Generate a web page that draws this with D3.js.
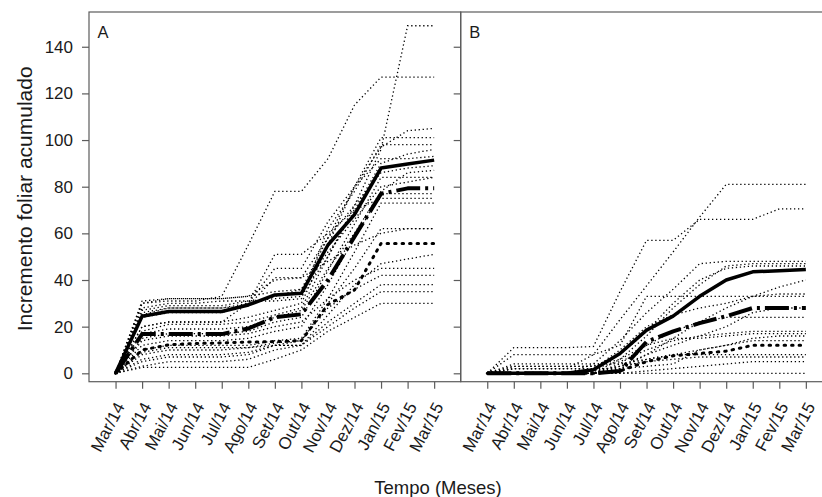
<!DOCTYPE html>
<html>
<head>
<meta charset="utf-8">
<script src="https://cdn.jsdelivr.net/npm/d3@7"></script>
<style>
  body{ margin: 0; background: #fff; }
  svg text{ font-family: 'Liberation Sans', Arial, sans-serif; fill: #1a1a1a; }
</style>
</head>
<body>
<div id="chart"></div>
<script>

// Months on the x axis (same for both panels).
const months = [ 'Mar/14', 'Abr/14', 'Mai/14', 'Jun/14', 'Jul/14', 'Ago/14', 'Set/14',
                 'Out/14', 'Nov/14', 'Dez/14', 'Jan/15', 'Fev/15', 'Mar/15' ];
const y_tick_values = [ 0, 20, 40, 60, 80, 100, 120, 140 ];

// Panel A: individual plants (thin dotted lines), one value per month.
const a_plants = [
  [ 0, 28, 30, 30, 31, 31, 32, 33, 50, 72, 96, 149, 149 ],
  [ 0, 30, 31, 31, 33, 55, 78, 78, 92, 115, 127, 127, 127 ],
  [ 0, 25, 28, 28, 28, 30, 33, 36, 58, 80, 97, 104, 105 ],
  [ 0, 20, 22, 22, 22, 24, 27, 30, 55, 80, 101, 101, 101 ],
  [ 0, 27, 29, 29, 29, 31, 31, 32, 62, 78, 98, 98, 98 ],
  [ 0, 18, 21, 21, 21, 22, 25, 28, 50, 70, 90, 94, 96 ],
  [ 0, 24, 26, 26, 26, 30, 45, 45, 65, 80, 92, 92, 93 ],
  [ 0, 31, 32, 32, 32, 33, 40, 41, 58, 72, 86, 88, 89 ],
  [ 0, 15, 17, 17, 17, 18, 22, 24, 44, 64, 84, 84, 84 ],
  [ 0, 12, 14, 14, 14, 15, 18, 20, 38, 58, 77, 77, 77 ],
  [ 0, 20, 22, 22, 22, 30, 51, 51, 60, 70, 75, 75, 75 ],
  [ 0, 10, 12, 12, 12, 12, 14, 15, 32, 52, 73, 73, 73 ],
  [ 0, 8, 10, 10, 10, 11, 13, 14, 30, 45, 62, 62, 62 ],
  [ 0, 5, 7, 7, 7, 8, 12, 12, 25, 38, 47, 49, 51 ],
  [ 0, 14, 16, 16, 16, 17, 20, 22, 32, 40, 45, 45, 45 ],
  [ 0, 6, 8, 8, 8, 9, 12, 14, 28, 36, 42, 42, 42 ],
  [ 0, 3, 5, 5, 5, 6, 10, 12, 22, 30, 38, 38, 38 ],
  [ 0, 9, 11, 11, 11, 11, 12, 12, 20, 28, 35, 35, 35 ],
  [ 0, 2.5, 2.5, 2.5, 2.5, 2.5, 6, 10, 18, 24, 30, 30, 30 ],
  [ 0, 30, 32, 32, 32, 33, 35, 36, 52, 66, 80, 82, 84 ],
  [ 0, 17, 19, 19, 19, 20, 24, 27, 45, 60, 78, 86, 87 ],
  [ 0, 26, 28, 28, 28, 29, 41, 41, 48, 55, 60, 62, 62 ]
];
// Panel A: group means (thick lines).
const a_mean_solid   = [ 0, 24.5, 26.5, 26.5, 26.5, 29.3, 33.6, 34.3, 55, 68, 88, 89.7, 91.4 ];
const a_mean_twodash = [ 0, 16.8, 16.8, 16.8, 16.8, 19.2, 24, 25.3, 40, 58.6, 77, 79.3, 79.3 ];
const a_mean_dotted  = [ 0, 10, 12.2, 12.8, 13, 13.4, 13.6, 14, 29.5, 35.7, 55.7, 55.7, 55.7 ];

// Panel B: individual plants.
const b_plants = [
  [ 0, 2, 2, 2, 8, 23, 37.5, 52, 67, 81, 81, 81, 81 ],
  [ 0, 11, 11, 11, 11.5, 35, 57, 57, 66, 66, 66, 70.5, 70.5 ],
  [ 0, 0, 0, 0, 4, 14, 26, 36, 47, 48, 48, 48, 48 ],
  [ 0, 0, 0, 0, 0, 6, 16, 28, 38, 46, 47, 47, 47 ],
  [ 0, 3, 3, 3, 3, 8, 18, 30, 40, 45, 46, 46, 46 ],
  [ 0, 0, 0, 0, 0, 2, 8, 15, 22, 28, 33, 37, 40 ],
  [ 0, 8, 8, 8, 8, 12, 33, 33, 33, 33, 33, 33, 33 ],
  [ 0, 0, 0, 0, 2, 10, 20, 25, 28, 30, 33, 34, 34 ],
  [ 0, 0, 0, 0, 0, 4, 12, 18, 22, 24, 24, 24, 24 ],
  [ 0, 2, 2, 2, 2, 5, 10, 14, 16, 17, 18, 18, 18 ],
  [ 0, 3, 3, 3, 3, 6, 12, 15, 15, 16, 17, 17, 17 ],
  [ 0, 0, 0, 0, 0, 2, 6, 8, 10, 12, 15, 16, 16 ],
  [ 0, 4, 4, 4, 4, 4, 6, 8, 8, 8, 8, 8, 8 ],
  [ 0, 0, 0, 0, 1, 3, 5, 6, 7, 7, 7, 7, 7 ],
  [ 0, 0, 0, 0, 0, 0, 1, 2, 3, 4, 5, 5, 5 ],
  [ 0, 0, 0, 0, 0, 0, 0, 0, 0, 0, 0, 0, 0 ],
  [ 0, 2, 2, 2, 2, 2, 3, 4, 10, 12, 14, 14, 14 ],
  [ 0, 0, 0, 0, 0, 3, 8, 12, 16, 20, 26, 28, 28 ]
];
const b_mean_solid   = [ 0, 0, 0, 0, 1.5, 8.5, 18.5, 24.5, 33, 40, 43.5, 44, 44.5 ];
const b_mean_twodash = [ 0, 0, 0, 0, 0, 1, 13.5, 18, 21.5, 24.5, 28, 28, 28 ];
const b_mean_dotted  = [ 0, 0, 0, 0, 0, 1, 5, 7.5, 8.5, 9.5, 12, 12, 12 ];


var settings = {
  figure_width: 822,
  figure_height: 497,
  plot_top: 12,
  plot_bottom: 381.7,
  x_domain: [ -1, 13 ],
  y_domain: [ -3.6, 154.9 ],
  box_color: '#5c5c5c',
  tick_size: 7,
  tick_font: '17px',
  label_angle: -62
};

var panels = [
  { label: 'A', left: 89, right: 460.7, plants: a_plants,
    means: [ a_mean_solid, a_mean_twodash, a_mean_dotted ], y_labels: true },
  { label: 'B', left: 460.7, right: 832.4, plants: b_plants,
    means: [ b_mean_solid, b_mean_twodash, b_mean_dotted ], y_labels: false }
];

// Line styles of the three means: solid, twodash, thick dotted.
var mean_styles = [
  { width: 3.5, dash: null, cap: 'butt' },
  { width: 4, dash: '24,5,3,5', cap: 'butt' },
  { width: 3, dash: '1.5,6', cap: 'round' }
];

var svg = d3.select( '#chart' )
  .append( 'svg' )
    .attr( 'width', settings.figure_width )
    .attr( 'height', settings.figure_height );

var y_scale = d3.scaleLinear()
  .domain( settings.y_domain )
  .range( [ settings.plot_bottom, settings.plot_top ] );


function draw_panel( panel ){
  var x_scale = d3.scaleLinear()
    .domain( settings.x_domain )
    .range( [ panel.left, panel.right ] );

  var line = d3.line()
    .x( function( d, i ){ return x_scale( i ) } )
    .y( function( d ){ return y_scale( d ) } );

  var g = svg.append( 'g' );

  // Thin dotted line for every plant.
  g.selectAll( 'path.plant' )
    .data( panel.plants )
    .enter()
    .append( 'path' )
      .attr( 'class', 'plant' )
      .attr( 'd', line )
      .attr( 'fill', 'none' )
      .attr( 'stroke', '#000' )
      .attr( 'stroke-width', 1.3 )
      .attr( 'stroke-dasharray', '1.3,2.7' );

  // Thick lines for the means, drawn on top.
  g.selectAll( 'path.mean' )
    .data( panel.means )
    .enter()
    .append( 'path' )
      .attr( 'class', 'mean' )
      .attr( 'd', line )
      .attr( 'fill', 'none' )
      .attr( 'stroke', '#000' )
      .attr( 'stroke-width', function( d, i ){ return mean_styles[ i ].width } )
      .attr( 'stroke-dasharray', function( d, i ){ return mean_styles[ i ].dash } )
      .attr( 'stroke-linecap', function( d, i ){ return mean_styles[ i ].cap } )
      .attr( 'stroke-linejoin', 'round' );

  // Box round the plot region.
  g.append( 'rect' )
    .attr( 'x', panel.left )
    .attr( 'y', settings.plot_top )
    .attr( 'width', panel.right - panel.left )
    .attr( 'height', settings.plot_bottom - settings.plot_top )
    .attr( 'fill', 'none' )
    .attr( 'stroke', settings.box_color )
    .attr( 'stroke-width', 1.2 );

  // X axis with rotated month labels.
  var x_axis = g.append( 'g' )
    .attr( 'transform', 'translate( 0, ' + settings.plot_bottom + ' )' )
    .call( d3.axisBottom( x_scale )
      .tickValues( d3.range( months.length ) )
      .tickSize( settings.tick_size )
      .tickFormat( function( i ){ return months[ i ] } ) );
  x_axis.select( '.domain' ).remove();
  x_axis.selectAll( '.tick line' ).attr( 'stroke', settings.box_color ).attr( 'stroke-width', 1.2 );
  x_axis.selectAll( '.tick text' )
    .attr( 'x', 0 )
    .attr( 'y', 0 )
    .attr( 'dy', '0.35em' )
    .attr( 'text-anchor', 'end' )
    .attr( 'transform', 'translate( 4, 22 ) rotate( ' + settings.label_angle + ' )' )
    .style( 'font-size', settings.tick_font )
    .style( 'fill', '#1a1a1a' );

  // Y axis: labels only on panel A, ticks on both.
  var y_axis = g.append( 'g' )
    .attr( 'transform', 'translate( ' + panel.left + ', 0 )' )
    .call( d3.axisLeft( y_scale )
      .tickValues( y_tick_values )
      .tickSize( settings.tick_size )
      .tickPadding( 9 )
      .tickFormat( panel.y_labels ? d3.format( 'd' ) : '' ) );
  y_axis.select( '.domain' ).remove();
  y_axis.selectAll( '.tick line' ).attr( 'stroke', settings.box_color ).attr( 'stroke-width', 1.2 );
  y_axis.selectAll( '.tick text' )
    .style( 'font-size', settings.tick_font )
    .style( 'fill', '#1a1a1a' );

  // Panel letter.
  g.append( 'text' )
    .attr( 'x', panel.left + 8.5 )
    .attr( 'y', 37.5 )
    .style( 'font-size', '16.5px' )
    .text( panel.label );
}

panels.forEach( draw_panel );

// Axis titles.
svg.append( 'text' )
  .attr( 'transform', 'translate( 32, ' + ( ( settings.plot_top + settings.plot_bottom ) / 2 + 2 ) + ' ) rotate( -90 )' )
  .attr( 'text-anchor', 'middle' )
  .style( 'font-size', '21px' )
  .text( 'Incremento foliar acumulado' );

svg.append( 'text' )
  .attr( 'x', 438 )
  .attr( 'y', 494 )
  .attr( 'text-anchor', 'middle' )
  .style( 'font-size', '18.5px' )
  .text( 'Tempo (Meses)' );

</script>
</body>
</html>
